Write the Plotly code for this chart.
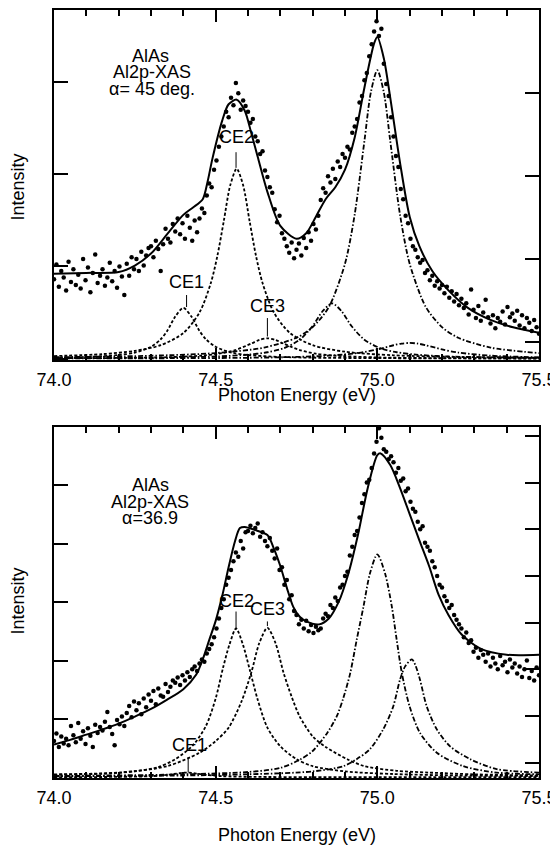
import plotly.graph_objects as go

# ---------------- data ----------------
E_START = 74.0
E_STEP = 0.0075

top_points = [
    0.86, 1.02, 0.78, 0.95, 0.88, 0.74, 1.05, 0.83, 0.97, 0.80,
    0.91, 0.76, 1.08, 0.85, 0.99, 0.72, 0.93, 1.13, 0.82, 0.90,
    0.97, 0.79, 0.88, 1.04, 0.84, 0.95, 0.77, 1.00, 0.89, 0.69,
    1.03, 0.90, 1.10, 0.97, 1.08, 0.95, 1.16, 1.01, 1.12, 1.20,
    1.22, 1.10, 1.28, 1.19, 0.95, 1.24, 1.41, 1.30, 1.26, 1.46,
    1.38, 1.52, 1.35, 1.47, 1.30, 1.55, 1.42, 1.28, 1.50, 1.37,
    1.52, 1.63, 1.58, 1.77, 1.90, 1.86, 2.05, 2.15, 2.30, 2.41,
    2.52, 2.68, 2.62, 2.83, 2.75, 2.99, 2.88, 2.70, 2.80, 2.74,
    2.68, 2.56, 2.60, 2.41, 2.36, 2.22, 2.25, 2.04, 1.97, 1.86,
    1.80, 1.62, 1.48, 1.55, 1.36, 1.30, 1.22, 1.15, 1.26, 1.09,
    1.18, 1.25, 1.12, 1.31, 1.20, 1.37, 1.28, 1.46, 1.40, 1.55,
    1.72, 1.85, 1.80, 1.98, 1.91, 2.06, 1.95, 2.14, 2.08, 2.22,
    2.18, 2.30, 2.27, 2.45, 2.52, 2.60, 2.78, 2.85, 3.02, 3.10,
    3.28, 3.41, 3.55, 3.66, 3.50, 3.58, 3.20, 2.98, 2.85, 2.62,
    2.41, 2.20, 2.08, 1.84, 1.73, 1.55, 1.47, 1.30, 1.22, 1.18,
    1.10, 1.04, 1.07, 0.93, 0.96, 0.85, 0.90, 0.79, 0.84, 0.76,
    0.80, 0.71, 0.78, 0.66, 0.73, 0.62, 0.70, 0.58, 0.65, 0.55,
    0.60, 0.48, 0.75, 0.53, 0.44, 0.57, 0.41, 0.50, 0.64, 0.45,
    0.38, 0.47, 0.33, 0.44, 0.40, 0.51, 0.37, 0.56, 0.45, 0.49,
    0.41, 0.52, 0.36, 0.47, 0.33, 0.44, 0.39, 0.30, 0.42, 0.34, 0.27,
]

bottom_points = [
    0.62, 0.75, 0.52, 0.70, 0.58, 0.66, 0.55, 0.88, 0.72, 0.60,
    0.93, 0.66, 0.79, 0.57, 0.84, 0.71, 0.52, 0.90, 0.76, 0.86,
    0.80, 0.95, 1.12, 0.86, 0.74, 0.55, 0.98, 0.91, 1.04, 0.88,
    1.10, 1.22, 1.03, 1.30, 1.15, 1.27, 1.08, 1.35, 1.20, 1.42,
    1.31, 1.48, 1.25, 1.52, 1.40, 1.38, 1.60, 1.46, 1.55, 1.66,
    1.62, 1.71, 1.58, 1.75, 1.66, 1.80, 1.72, 1.85, 1.90, 1.82,
    1.95, 2.02, 1.98, 2.12, 2.20, 2.28, 2.40, 2.55, 2.72, 2.90,
    3.05, 3.30, 3.42, 3.55, 3.70, 3.85, 3.78, 4.05, 3.92, 4.20,
    4.22, 4.31, 4.18, 4.27, 4.35, 4.12, 4.20, 4.05, 3.96, 4.10,
    3.88, 3.75, 3.92, 3.55, 3.60, 3.30, 3.38, 3.05, 3.12, 2.85,
    2.78, 2.62, 2.70, 2.55, 2.68, 2.50, 2.61, 2.47, 2.58, 2.52,
    2.55, 2.72, 2.80, 2.76, 2.95, 2.90, 3.08, 3.02, 3.25, 3.30,
    3.45, 3.52, 3.80, 3.95, 4.15, 4.22, 4.45, 4.70, 4.85, 5.05,
    5.10, 5.30, 5.55, 5.75, 5.98, 5.82, 5.62, 5.58, 5.45, 5.50,
    5.40, 5.22, 5.30, 5.08, 5.12, 4.90, 4.95, 4.72, 4.60, 4.55,
    4.38, 4.25, 4.30, 4.02, 3.95, 3.88, 3.70, 3.60, 3.45, 3.30,
    3.25, 3.10, 3.02, 2.90, 2.95, 2.78, 2.70, 2.62, 2.55, 2.40,
    2.48, 2.30, 2.35, 2.15, 2.22, 2.05, 2.18, 2.10, 1.98, 2.12,
    1.90, 2.05, 1.95, 1.85, 2.08, 1.92, 1.98, 1.80, 2.02, 1.88,
    1.95, 1.78, 1.90, 1.72, 1.85, 2.00, 1.70, 1.82, 1.66, 1.88, 1.75,
]

# fit curves
top_fit_e = [74.00, 74.10, 74.20, 74.25, 74.30, 74.35, 74.40, 74.43, 74.46, 74.475,
             74.49, 74.52, 74.54, 74.565, 74.59, 74.61, 74.63, 74.66, 74.70, 74.75,
             74.78, 74.81, 74.84, 74.87, 74.90, 74.93, 74.96, 74.99, 75.00, 75.02,
             75.04, 75.07, 75.10, 75.13, 75.17, 75.22, 75.28, 75.35, 75.42, 75.50]
top_fit_u = [0.92, 0.93, 0.94, 1.01, 1.14, 1.35, 1.56, 1.64, 1.73, 1.92,
             2.17, 2.58, 2.76, 2.81, 2.69, 2.45, 2.19, 1.81, 1.44, 1.30,
             1.36, 1.54, 1.73, 1.86, 2.05, 2.40, 2.94, 3.42, 3.49, 3.26,
             2.83, 2.13, 1.54, 1.22, 0.95, 0.74, 0.55, 0.42, 0.34, 0.28]

bot_fit_e = [74.00, 74.05, 74.10, 74.15, 74.20, 74.25, 74.30, 74.35, 74.40, 74.44,
             74.46, 74.48, 74.50, 74.52, 74.54, 74.56, 74.575, 74.59, 74.62, 74.66,
             74.68, 74.70, 74.72, 74.74, 74.76, 74.78, 74.82, 74.85, 74.88, 74.91,
             74.94, 74.97, 75.00, 75.01, 75.04, 75.07, 75.10, 75.13, 75.16, 75.19,
             75.22, 75.26, 75.32, 75.40, 75.50]
bot_fit_u = [0.56, 0.64, 0.73, 0.82, 0.92, 1.04, 1.17, 1.33, 1.51, 1.76,
             2.02, 2.35, 2.68, 3.10, 3.60, 4.05, 4.27, 4.29, 4.24, 4.15,
             3.92, 3.62, 3.25, 2.92, 2.75, 2.67, 2.62, 2.72, 3.00, 3.48,
             4.15, 4.95, 5.52, 5.55, 5.35, 4.96, 4.51, 4.06, 3.62, 3.12,
             2.78, 2.45, 2.20, 2.10, 2.10]

# components, top panel (alpha = 45 deg)
t_ce1_e = [74.00, 74.10, 74.20, 74.25, 74.30, 74.33, 74.35, 74.375, 74.40, 74.425,
           74.45, 74.47, 74.50, 74.55, 74.60, 74.70, 74.80, 75.00, 75.20, 75.50]
t_ce1_u = [0.010, 0.018, 0.039, 0.065, 0.128, 0.21, 0.30, 0.456, 0.55, 0.456,
           0.30, 0.21, 0.128, 0.065, 0.039, 0.018, 0.010, 0.005, 0.003, 0.001]

t_ce2_e = [74.00, 74.15, 74.25, 74.33, 74.40, 74.45, 74.485, 74.505, 74.525, 74.545,
           74.565, 74.585, 74.605, 74.625, 74.645, 74.68, 74.73, 74.80, 74.90, 75.05,
           75.25, 75.50]
t_ce2_u = [0.027, 0.049, 0.084, 0.146, 0.277, 0.50, 0.82, 1.11, 1.49, 1.88,
           2.06, 1.88, 1.49, 1.11, 0.82, 0.50, 0.277, 0.146, 0.075, 0.036,
           0.018, 0.010]

t_ce3_e = [74.00, 74.20, 74.36, 74.46, 74.51, 74.56, 74.61, 74.635, 74.66, 74.685,
           74.71, 74.76, 74.81, 74.86, 75.00, 75.20, 75.50]
t_ce3_u = [0.0036, 0.0073, 0.0163, 0.034, 0.0535, 0.092, 0.163, 0.2025, 0.22, 0.2025,
           0.163, 0.092, 0.0535, 0.034, 0.0129, 0.0053, 0.0022]

t_p4_e = [74.00, 74.30, 74.50, 74.60, 74.66, 74.71, 74.76, 74.80, 74.83, 74.86,
          74.89, 74.92, 74.96, 75.01, 75.06, 75.12, 75.22, 75.50]
t_p4_u = [0.0042, 0.0098, 0.023, 0.043, 0.069, 0.112, 0.205, 0.354, 0.511, 0.60,
          0.511, 0.354, 0.205, 0.112, 0.069, 0.043, 0.023, 0.0075]

t_p5_e = [74.00, 74.30, 74.50, 74.65, 74.75, 74.80, 74.85, 74.90, 74.93, 74.96,
          74.98, 75.00, 75.02, 75.04, 75.07, 75.10, 75.15, 75.20, 75.25, 75.35, 75.50]
t_p5_u = [0.015, 0.031, 0.060, 0.120, 0.227, 0.342, 0.56, 1.03, 1.565, 2.36,
          2.89, 3.13, 2.89, 2.36, 1.565, 1.03, 0.56, 0.342, 0.227, 0.120, 0.060]

t_p6_e = [74.00, 74.50, 74.70, 74.85, 74.95, 75.00, 75.05, 75.075, 75.10, 75.125,
          75.15, 75.20, 75.25, 75.35, 75.50]
t_p6_u = [0.002, 0.0063, 0.014, 0.032, 0.066, 0.100, 0.145, 0.163, 0.17, 0.163,
          0.145, 0.100, 0.066, 0.032, 0.014]

# components, bottom panel (alpha = 36.9)
b_ce1_e = [74.00, 74.20, 74.30, 74.35, 74.41, 74.47, 74.52, 74.62, 74.80, 75.10, 75.50]
b_ce1_u = [0.0017, 0.006, 0.018, 0.04, 0.08, 0.04, 0.018, 0.006, 0.0019, 0.0006, 0.0003]

b_ce2_e = [74.00, 74.15, 74.25, 74.32, 74.375, 74.43, 74.47, 74.50, 74.523, 74.543,
           74.563, 74.585, 74.605, 74.63, 74.66, 74.70, 74.75, 74.80, 74.90, 75.05,
           75.25, 75.50]
b_ce2_u = [0.04, 0.06, 0.10, 0.17, 0.31, 0.55, 0.88, 1.35, 1.88, 2.28,
           2.55, 2.26, 1.85, 1.33, 0.85, 0.53, 0.31, 0.19, 0.10, 0.055,
           0.03, 0.02]

b_ce3_e = [74.00, 74.20, 74.35, 74.45, 74.50, 74.54, 74.58, 74.61, 74.635, 74.66,
           74.685, 74.71, 74.735, 74.76, 74.80, 74.84, 74.91, 74.96, 75.06, 75.16,
           75.30, 75.50]
b_ce3_u = [0.05, 0.08, 0.19, 0.42, 0.62, 0.85, 1.30, 1.79, 2.30, 2.56,
           2.30, 1.79, 1.38, 1.04, 0.70, 0.52, 0.30, 0.19, 0.11, 0.08,
           0.05, 0.03]

b_p5_e = [74.00, 74.40, 74.60, 74.70, 74.76, 74.80, 74.845, 74.875, 74.895, 74.916,
          74.936, 74.957, 74.977, 75.00, 75.024, 75.045, 75.06, 75.076, 75.10, 75.132,
          75.184, 75.266, 75.369, 75.50]
b_p5_u = [0.02, 0.05, 0.09, 0.16, 0.30, 0.45, 0.76, 1.05, 1.36, 1.78,
          2.35, 2.92, 3.49, 3.82, 3.49, 2.92, 2.35, 1.78, 1.21, 0.76,
          0.42, 0.19, 0.08, 0.05]

b_p6_e = [74.00, 74.40, 74.60, 74.80, 74.895, 74.936, 74.977, 75.018, 75.049, 75.070,
          75.086, 75.107, 75.117, 75.132, 75.153, 75.184, 75.225, 75.287, 75.369, 75.50]
b_p6_u = [0.015, 0.03, 0.05, 0.10, 0.19, 0.31, 0.48, 0.82, 1.21, 1.67,
          1.90, 2.02, 1.93, 1.67, 1.21, 0.82, 0.53, 0.31, 0.14, 0.08]

x_ticks = [74.0, 74.5, 75.0, 75.5]
x_tick_labels = ["74.0", "74.5", "75.0", "75.5"]

# ---------------- figure ----------------
FONT = "Liberation Sans, Arial, Helvetica, sans-serif"
DASH = "3px,2px"
DASHDOT = "5px,2px,1.5px,2px"

fig = go.Figure()


def grid(vals):
    return [round(E_START + i * E_STEP, 4) for i in range(len(vals))]


def comp(xs, ys, dash, xa, ya):
    fig.add_trace(go.Scatter(x=xs, y=ys, mode="lines", xaxis=xa, yaxis=ya,
                             line=dict(color="black", width=1.8, dash=dash,
                                       shape="spline", smoothing=0.8),
                             hoverinfo="skip", showlegend=False))


# top panel
for xs, ys, d in [(t_ce1_e, t_ce1_u, DASH), (t_ce2_e, t_ce2_u, DASH), (t_ce3_e, t_ce3_u, DASH),
                  (t_p4_e, t_p4_u, DASHDOT), (t_p5_e, t_p5_u, DASHDOT), (t_p6_e, t_p6_u, DASHDOT)]:
    comp(xs, ys, d, "x", "y")
fig.add_trace(go.Scatter(x=top_fit_e, y=top_fit_u, mode="lines", xaxis="x", yaxis="y",
                         line=dict(color="black", width=2, shape="spline", smoothing=0.8),
                         showlegend=False))
fig.add_trace(go.Scatter(x=grid(top_points), y=top_points, mode="markers", xaxis="x", yaxis="y",
                         marker=dict(color="black", size=4.5), showlegend=False))

# bottom panel
for xs, ys, d in [(b_ce1_e, b_ce1_u, DASH), (b_ce2_e, b_ce2_u, DASH), (b_ce3_e, b_ce3_u, DASH),
                  (b_p5_e, b_p5_u, DASHDOT), (b_p6_e, b_p6_u, DASHDOT)]:
    comp(xs, ys, d, "x2", "y2")
fig.add_trace(go.Scatter(x=bot_fit_e, y=bot_fit_u, mode="lines", xaxis="x2", yaxis="y2",
                         line=dict(color="black", width=2, shape="spline", smoothing=0.8),
                         showlegend=False))
fig.add_trace(go.Scatter(x=grid(bottom_points), y=bottom_points, mode="markers", xaxis="x2", yaxis="y2",
                         marker=dict(color="black", size=4.5), showlegend=False))

# carrier traces for right-hand tick axes
fig.add_trace(go.Scatter(x=[None], y=[None], xaxis="x", yaxis="y3", showlegend=False, hoverinfo="skip"))
fig.add_trace(go.Scatter(x=[None], y=[None], xaxis="x2", yaxis="y4", showlegend=False, hoverinfo="skip"))

xcommon = dict(range=[74.0, 75.5], tickmode="array", tickvals=x_ticks, ticktext=x_tick_labels,
               ticks="inside", ticklen=12, tickwidth=2, tickcolor="black",
               showline=True, linewidth=2, linecolor="black", mirror="ticks",
               minor=dict(dtick=0.1, tick0=74.0, ticks="inside", ticklen=6, tickwidth=1.5, tickcolor="black"),
               showgrid=False, zeroline=False,
               tickfont=dict(family=FONT, size=18, color="black"), ticklabelstandoff=2)
ycommon = dict(ticks="inside", ticklen=14, tickwidth=2, tickcolor="black",
               showticklabels=False, showline=True, linewidth=2, linecolor="black",
               showgrid=False, zeroline=False)

# the page body has an 8px margin, so the figure is 8px smaller than the window
TOP_DOM = [0.54416, 1.0]
BOT_DOM = [0.0, 0.45714]
TOP_RANGE = [-0.016, 3.783]
BOT_RANGE = [-0.013, 6.004]

fig.update_layout(
    width=550, height=842,
    margin=dict(l=46, r=19, t=0, b=72, pad=0),
    plot_bgcolor="white", paper_bgcolor="white",
    showlegend=False,
    xaxis=dict(anchor="y", domain=[0, 1], **xcommon),
    xaxis2=dict(anchor="y2", domain=[0, 1], **xcommon),
    yaxis=dict(anchor="x", domain=TOP_DOM, range=TOP_RANGE, tick0=0, dtick=1, mirror=False, **ycommon),
    yaxis3=dict(anchor="x", overlaying="y", side="right", range=TOP_RANGE, tick0=0.18, dtick=0.9, **ycommon),
    yaxis2=dict(anchor="x2", domain=BOT_DOM, range=BOT_RANGE, tick0=0, dtick=1, mirror=False, **ycommon),
    yaxis4=dict(anchor="x2", overlaying="y2", side="right", range=BOT_RANGE, tick0=0.25, dtick=0.8, **ycommon),
)

tf = dict(family=FONT, size=18, color="black")
ann = []


def txt(s, x, y, xr, yr, **kw):
    ann.append(dict(text=s, x=x, y=y, xref=xr, yref=yr, showarrow=False, font=tf,
                    xanchor="center", yanchor="middle", **kw))


# panel texts
txt("AlAs", 74.297, 3.28, "x", "y")
txt("Al2p-XAS", 74.303, 3.11, "x", "y")
txt("\u03b1= 45 deg.", 74.303, 2.93, "x", "y")
txt("CE1", 74.41, 0.83, "x", "y")
txt("CE2", 74.563, 2.40, "x", "y")
txt("CE3", 74.66, 0.57, "x", "y")

txt("AlAs", 74.297, 5.0, "x2", "y2")
txt("Al2p-XAS", 74.297, 4.72, "x2", "y2")
txt("\u03b1=36.9", 74.297, 4.45, "x2", "y2")
txt("CE1", 74.42, 0.56, "x2", "y2")
txt("CE2", 74.563, 3.02, "x2", "y2")
txt("CE3", 74.66, 2.88, "x2", "y2")

# axis titles
txt("Intensity", -0.0742, 0.7688, "paper", "paper", textangle=-90)
txt("Intensity", -0.0742, 0.2299, "paper", "paper", textangle=-90)
txt("Photon Energy (eV)", 0.5, 0.4987, "paper", "paper")
txt("Photon Energy (eV)", 0.5, -0.0740, "paper", "paper")

fig.update_layout(annotations=ann)

# leader lines for component labels
shapes = []
for x, y0, y1, xr, yr in [(74.41, 0.56, 0.69, "x", "y"), (74.563, 2.07, 2.24, "x", "y"),
                          (74.66, 0.24, 0.44, "x", "y"),
                          (74.415, 0.08, 0.34, "x2", "y2"), (74.563, 2.53, 2.84, "x2", "y2"),
                          (74.66, 2.59, 2.67, "x2", "y2")]:
    shapes.append(dict(type="line", x0=x, x1=x, y0=y0, y1=y1, xref=xr, yref=yr,
                       line=dict(color="black", width=1)))
fig.update_layout(shapes=shapes)

fig.write_html("out.html")
